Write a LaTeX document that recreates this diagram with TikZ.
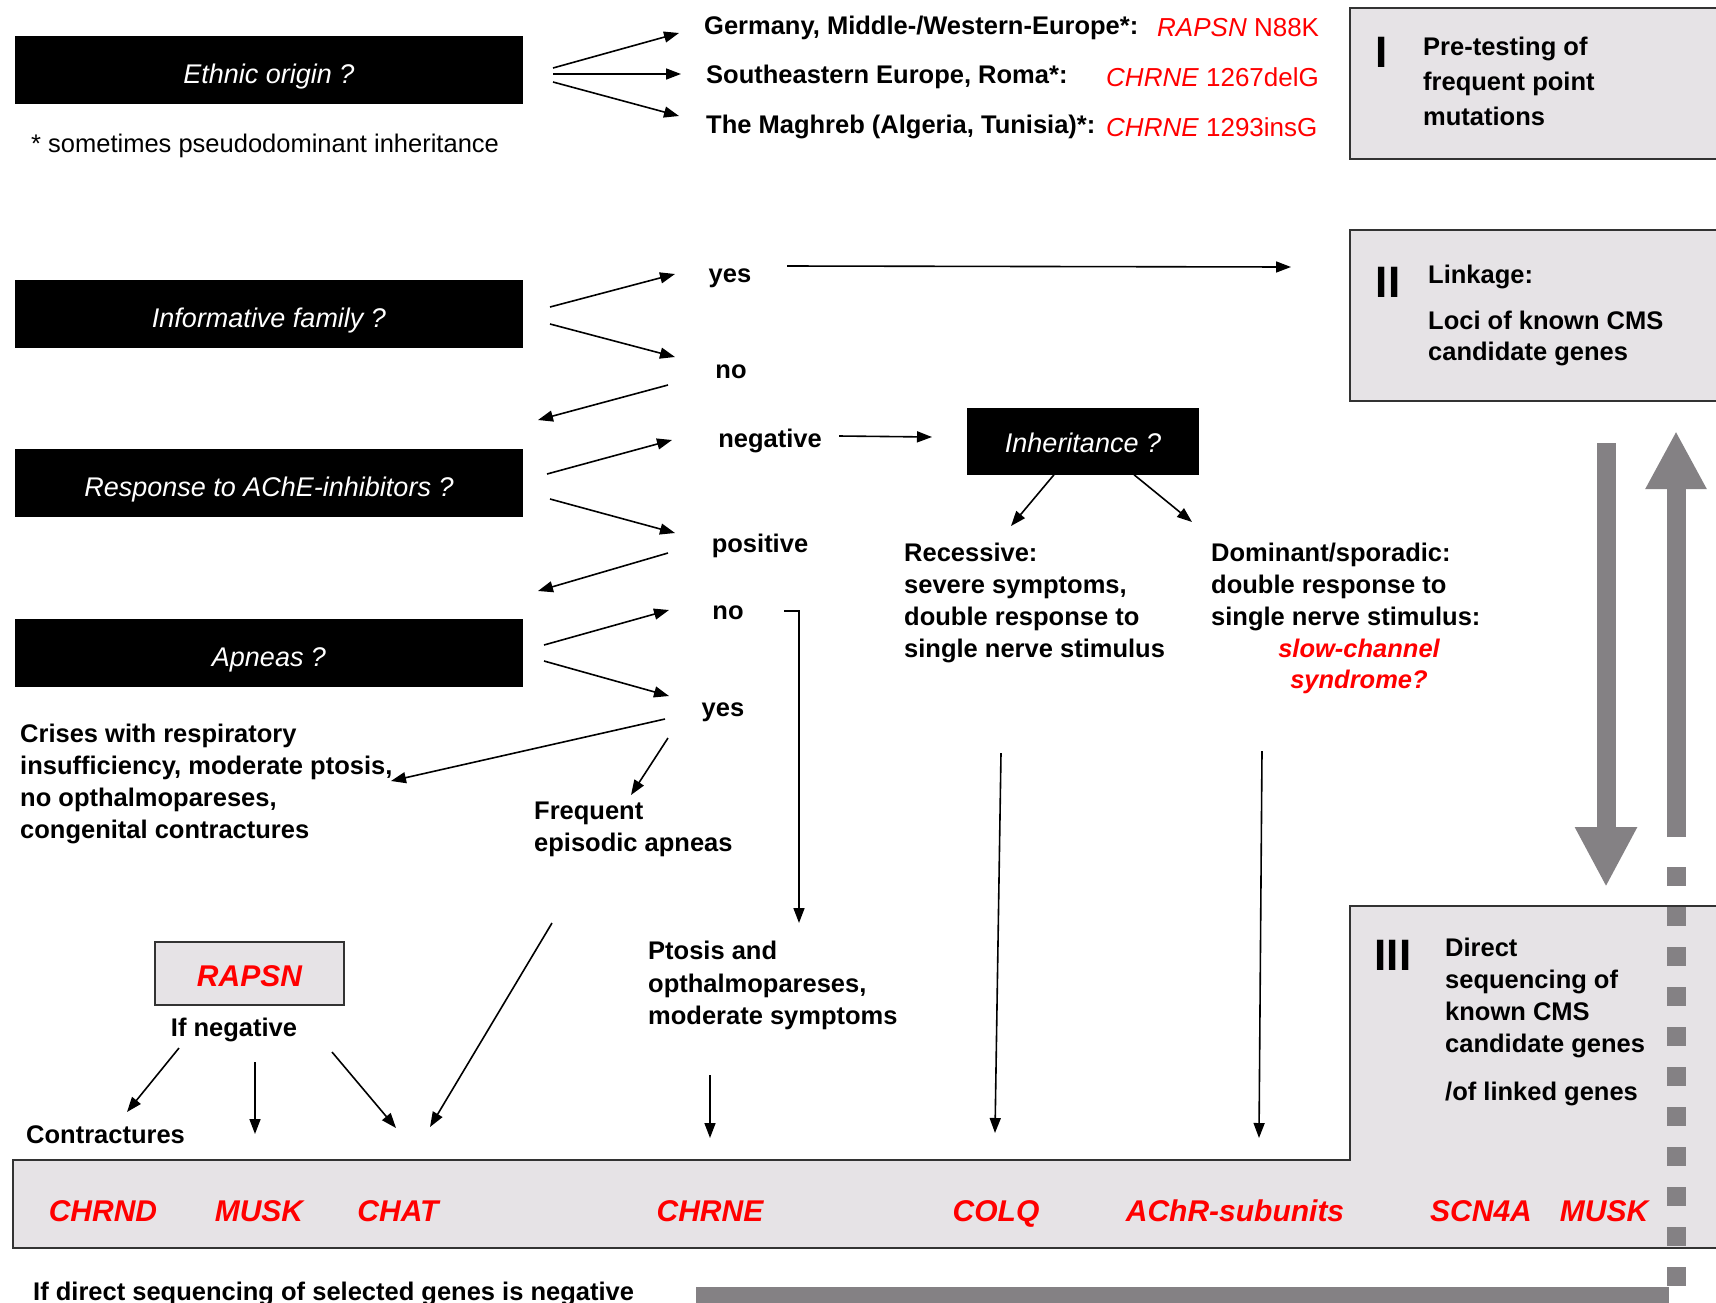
\documentclass[tikz,border=0pt]{standalone}
\usepackage{fontspec}
\setmainfont{Liberation Sans}
\usetikzlibrary{arrows.meta}
\definecolor{boxgray}{RGB}{230,227,230}
\definecolor{bargray}{RGB}{132,129,132}
\definecolor{genered}{RGB}{255,0,0}
\tikzset{
  arr/.style={-{Triangle[length=15pt,width=11pt]},line width=1.6pt},
  question/.style={fill=black,text=white,minimum width=508pt,minimum height=68pt,
    inner sep=0pt,text height=30pt,text depth=4pt,font=\fontsize{27}{32}\selectfont\itshape},
  txt/.style={inner sep=0pt,yshift=-3pt,align=left,font=\fontsize{25.5}{32}\selectfont\bfseries},
  redtxt/.style={inner sep=0pt,yshift=-3pt,text=genered,font=\fontsize{26}{32}\selectfont},
  gene/.style={inner sep=0pt,anchor=base,text=genered,font=\fontsize{30}{36}\selectfont\bfseries\itshape},
  numeral/.style={inner sep=0pt,font=\fontsize{44}{44}\selectfont\bfseries},
  stage/.style={fill=boxgray,draw=black!80,line width=1.6pt},
  bigarrow/.style={draw=bargray,line width=19pt},
}
\begin{document}
\begin{tikzpicture}[x=1pt,y=-1pt]
\useasboundingbox (0,0) rectangle (1716,1302);

% stages I, II, III
\filldraw[stage] (1730,8) -- (1350,8) -- (1350,159) -- (1730,159);
\filldraw[stage] (1730,230) -- (1350,230) -- (1350,401) -- (1730,401);
\filldraw[stage] (1730,906) -- (1350,906) -- (1350,1160) -- (13,1160) -- (13,1248) -- (1730,1248);

\node[numeral] (numI) at (1382,52) {I};
\node[txt,anchor=north west,font=\fontsize{25.5}{35}\selectfont\bfseries] (pretest) at (1423,34)
  {Pre-testing of\\frequent point\\mutations};
\node[numeral] (numII) at (1388,282) {II};
\node[txt,anchor=west] (linkage) at (1428,274) {Linkage:};
\node[txt,anchor=north west,font=\fontsize{25.5}{31}\selectfont\bfseries] (loci) at (1428,308)
  {Loci of known CMS\\candidate genes};
\node[numeral] (numIII) at (1393,955) {III};
\node[txt,anchor=north west] (direct) at (1445,935)
  {Direct\\sequencing of\\known CMS\\candidate genes};
\node[txt,anchor=west] (linked) at (1445,1091) {/of linked genes};

% grey arrows between stages
\draw[bigarrow,-{Triangle[length=60pt,width=58pt]}] (1606,443) -- (1606,887);
\draw[bigarrow,-{Triangle[length=58pt,width=57pt]}] (1676,837) -- (1676,431);
\draw[bigarrow,dash pattern=on 19pt off 21pt] (1676,867) -- (1676,1286);
\fill[bargray] (696,1287) rectangle (1669,1310);

% questions
\node[question] (ethnic) at (269,70) {Ethnic origin ?};
\node[question] (informative) at (269,314) {Informative family ?};
\node[question] (response) at (269,483) {Response to AChE-inhibitors ?};
\node[question] (apneas) at (269,653) {Apneas ?};
\node[question,minimum width=232pt,minimum height=67pt,text height=26pt] (inherit) at (1083,441) {Inheritance ?};

\node[txt,anchor=west,font=\fontsize{25.5}{32}\selectfont] (pseudo) at (31,143) {* sometimes pseudodominant inheritance};

% ethnic origin
\node[txt,anchor=west] (germany) at (704,25) {Germany, Middle-/Western-Europe*:};
\node[redtxt,anchor=west] (n88k) at (1157,25) {\textit{RAPSN} N88K};
\node[txt,anchor=west] (roma) at (706,74) {Southeastern Europe, Roma*:};
\node[redtxt,anchor=west] (del) at (1106,74) {\textit{CHRNE} 1267delG};
\node[txt,anchor=west] (maghreb) at (706,124) {The Maghreb (Algeria, Tunisia)*:};
\node[redtxt,anchor=west] (ins) at (1106,124) {\textit{CHRNE} 1293insG};

% answers
\node[txt] (yesA) at (730,275) {yes};
\node[txt] (noA) at (731,369) {no};
\node[txt] (negative) at (770,438) {negative};
\node[txt] (positive) at (760,543) {positive};
\node[txt] (noB) at (728,610) {no};
\node[txt] (yesB) at (723,709) {yes};

\node[txt,anchor=north west] (crises) at (20,721)
  {Crises with respiratory\\insufficiency, moderate ptosis,\\no opthalmopareses,\\congenital contractures};
\node[txt,anchor=north west] (frequent) at (534,799) {Frequent\\episodic apneas};
\node[txt,anchor=north west,font=\fontsize{25.5}{32.5}\selectfont\bfseries] (ptosis) at (648,938)
  {Ptosis and\\opthalmopareses,\\moderate symptoms};
\node[txt,anchor=north west] (recessive) at (904,540)
  {Recessive:\\severe symptoms,\\double response to\\single nerve stimulus};
\node[txt,anchor=north west] (dominant) at (1211,540)
  {Dominant/sporadic:\\double response to\\single nerve stimulus:};
\node[txt,anchor=north,align=center,text=genered,font=\fontsize{25.5}{31}\selectfont\bfseries\itshape]
  (slow) at (1359,636) {slow-channel\\syndrome?};

\node[stage,minimum width=189pt,minimum height=63pt,inner sep=0pt,text height=30pt,text depth=4pt] (rapsn) at (249.5,973.5)
  {\textcolor{genered}{\fontsize{30}{36}\selectfont\bfseries\itshape RAPSN}};
\node[txt] (ifneg) at (234,1027) {If negative};
\node[txt,anchor=west] (contract) at (26,1132) {Contractures};
\node[txt,anchor=west] (ifdirect) at (33,1291) {If direct sequencing of selected genes is negative};

% genes
\node[gene] (chrnd) at (103,1221) {CHRND};
\node[gene] (muskA) at (259,1221) {MUSK};
\node[gene] (chat) at (398,1221) {CHAT};
\node[gene] (chrne) at (710,1221) {CHRNE};
\node[gene] (colq) at (996,1221) {COLQ};
\node[gene] (achr) at (1235,1221) {AChR-subunits};
\node[gene] (scn) at (1481,1221) {SCN4A};
\node[gene] (muskB) at (1604,1221) {MUSK};

% arrow ends
\path (553,68) coordinate (eoA) (679,33) coordinate (gerA)
      (553,74) coordinate (eoB) (681,74) coordinate (romaA)
      (553,82) coordinate (eoC) (679,116) coordinate (magA)
      (550,307) coordinate (ifA) (675,274) coordinate (yesAin)
      (550,324) coordinate (ifB) (675,357) coordinate (noAin)
      (668,385) coordinate (noAout) (538,420) coordinate (respIn)
      (547,474) coordinate (respA) (672,440) coordinate (negIn)
      (550,499) coordinate (respB) (675,533) coordinate (posIn)
      (668,553) coordinate (posOut) (538,591) coordinate (apIn)
      (544,645) coordinate (apA) (669,610) coordinate (noBin)
      (544,661) coordinate (apB) (669,696) coordinate (yesBin)
      (787,266) coordinate (yesAout) (1291,267) coordinate (linkIn)
      (839,436) coordinate (negOut) (932,437) coordinate (inhIn)
      (784,611) coordinate (noBout) (799,611) coordinate (noBbend) (799,923) coordinate (ptosisIn)
      (665,719) coordinate (yesBoutA) (391,781) coordinate (crisesIn)
      (668,738) coordinate (yesBoutB) (631,795) coordinate (freqIn)
      (552,923) coordinate (freqOut) (430,1127) coordinate (chatInA)
      (710,1075) coordinate (ptosisOut) (710,1138) coordinate (chrneIn)
      (1011,526) coordinate (recIn) (1192,522) coordinate (domIn)
      (1001,753) coordinate (recOut) (995,1133) coordinate (colqIn)
      (1262,751) coordinate (domOut) (1259,1138) coordinate (achrIn)
      (179,1048) coordinate (negA) (127,1112) coordinate (contrIn)
      (255,1062) coordinate (negB) (255,1134) coordinate (muskIn)
      (332,1052) coordinate (negC) (396,1128) coordinate (chatInB);

\draw[arr] (eoA) -- (gerA);
\draw[arr] (eoB) -- (romaA);
\draw[arr] (eoC) -- (magA);
\draw[arr] (ifA) -- (yesAin);
\draw[arr] (ifB) -- (noAin);
\draw[arr] (noAout) -- (respIn);
\draw[arr] (respA) -- (negIn);
\draw[arr] (respB) -- (posIn);
\draw[arr] (posOut) -- (apIn);
\draw[arr] (apA) -- (noBin);
\draw[arr] (apB) -- (yesBin);
\draw[arr] (yesAout) -- (linkIn);
\draw[arr] (negOut) -- (inhIn);
\draw[arr] (noBout) -- (noBbend) -- (ptosisIn);
\draw[arr] (yesBoutA) -- (crisesIn);
\draw[arr] (yesBoutB) -- (freqIn);
\draw[arr] (freqOut) -- (chatInA);
\draw[arr] (ptosisOut) -- (chrneIn);
\draw[arr] ([xshift=-29pt]inherit.south) -- (recIn);
\draw[arr] ([xshift=51pt]inherit.south) -- (domIn);
\draw[arr] (recOut) -- (colqIn);
\draw[arr] (domOut) -- (achrIn);
\draw[arr] (negA) -- (contrIn);
\draw[arr] (negB) -- (muskIn);
\draw[arr] (negC) -- (chatInB);
\end{tikzpicture}
\end{document}
